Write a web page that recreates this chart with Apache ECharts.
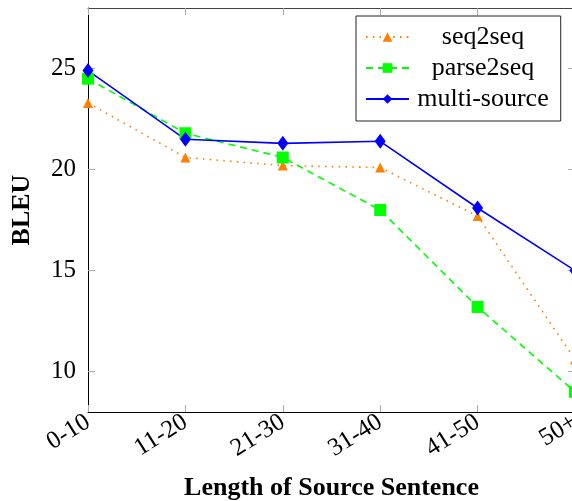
<!DOCTYPE html>
<html>
<head>
<meta charset="utf-8">
<script src="https://cdn.jsdelivr.net/npm/echarts@6/dist/echarts.min.js"></script>
<style>html,body{margin:0;padding:0;background:#fff;}#c{width:572px;height:501px;}</style>
</head>
<body>
<div id="c"></div>
<script>
const categories = ['0-10', '11-20', '21-30', '31-40', '41-50', '50+'];
const seq2seq = [23.3, 20.6, 20.2, 20.1, 17.7, 10.6];
const parse2seq = [24.5, 21.8, 20.6, 18.0, 13.2, 9.0];
const multiSource = [24.9, 21.5, 21.3, 21.4, 18.1, 15.0];
const yTicks = [10, 15, 20, 25];

const serif = '"Liberation Serif", "DejaVu Serif", serif';
const chart = echarts.init(document.getElementById('c'));
const tickStyle = { show: true, inside: true, length: 7, lineStyle: { color: '#aaa', width: 1 } };
chart.setOption({
  animation: false,
  grid: { left: 88, right: -3, top: 8, bottom: 89, containLabel: false, outerBoundsMode: 'none' },
  legend: {
    orient: 'vertical', left: 356, top: 16,
    padding: [8, 12, 9, 9], itemGap: 5,
    itemWidth: 43, itemHeight: 12,
    borderColor: '#222', borderWidth: 1, backgroundColor: '#fff',
    formatter: '{t|{name}}',
    textStyle: { fontFamily: serif, fontSize: 26, color: '#000',
      rich: { t: { width: 138, align: 'center', fontFamily: serif, fontSize: 26, color: '#000' } } },
    data: ['seq2seq', 'parse2seq', 'multi-source']
  },
  xAxis: [{
    type: 'category', data: categories, boundaryGap: false,
    name: 'Length of Source Sentence', nameLocation: 'middle', nameGap: 63,
    nameTextStyle: { fontFamily: serif, fontSize: 26, fontWeight: 'bold', color: '#000' },
    axisLine: { lineStyle: { color: '#000', width: 1 } },
    axisTick: Object.assign({ alignWithLabel: true }, tickStyle),
    axisLabel: { rotate: 32, margin: 8, fontFamily: serif, fontSize: 25, color: '#000' },
    splitLine: { show: false }
  }, {
    type: 'category', data: categories, boundaryGap: false, position: 'top',
    axisLine: { show: true, lineStyle: { color: '#444', width: 1 } },
    axisTick: tickStyle, axisLabel: { show: false }, splitLine: { show: false }
  }],
  yAxis: [{
    type: 'value', min: 8, max: 28,
    name: 'BLEU', nameLocation: 'middle', nameGap: 53, nameRotate: 90,
    nameTextStyle: { fontFamily: serif, fontSize: 26, fontWeight: 'bold', color: '#000' },
    axisLine: { show: true, lineStyle: { color: '#000', width: 1 } },
    axisTick: Object.assign({ customValues: yTicks }, tickStyle),
    axisLabel: { customValues: yTicks, margin: 12, fontFamily: serif, fontSize: 25, color: '#000' },
    splitLine: { show: false }
  }, {
    type: 'value', min: 8, max: 28, position: 'right',
    axisLine: { show: true, lineStyle: { color: '#000', width: 1 } },
    axisTick: Object.assign({ customValues: yTicks }, tickStyle),
    axisLabel: { show: false }, splitLine: { show: false }
  }],
  series: [{
    name: 'seq2seq', type: 'line', data: seq2seq,
    symbol: 'triangle', symbolSize: [10, 10], showAllSymbol: true,
    itemStyle: { color: '#ff8000' },
    lineStyle: { color: '#ff8000', width: 1.6, type: [1.6, 5.2] }
  }, {
    name: 'parse2seq', type: 'line', data: parse2seq,
    symbol: 'rect', symbolSize: [12, 12], showAllSymbol: true,
    itemStyle: { color: '#00ff00' },
    lineStyle: { color: '#00ff00', width: 1.6, type: [7, 5] }
  }, {
    name: 'multi-source', type: 'line', data: multiSource,
    symbol: 'diamond', symbolSize: [11, 15], showAllSymbol: true,
    itemStyle: { color: '#0000ff' },
    lineStyle: { color: '#0000ff', width: 1.6, type: 'solid' }
  }]
});
</script>
</body>
</html>
